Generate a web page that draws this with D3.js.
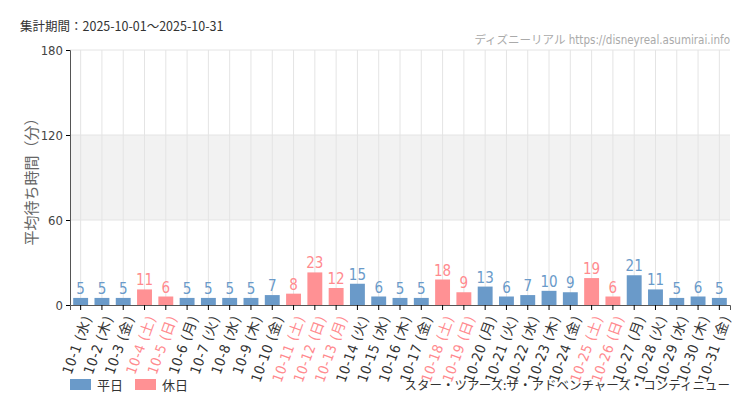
<!DOCTYPE html>
<html><head><meta charset="utf-8">
<script src="https://cdn.jsdelivr.net/npm/d3@7"></script>
<style>body{margin:0;background:#fff;font-family:"Noto Sans CJK JP",sans-serif}</style>
</head><body><svg id="c" width="750" height="410"></svg>
<script>
// data
var days = ["10-1","10-2","10-3","10-4","10-5","10-6","10-7","10-8","10-9","10-10","10-11","10-12","10-13","10-14","10-15","10-16","10-17","10-18","10-19","10-20","10-21","10-22","10-23","10-24","10-25","10-26","10-27","10-28","10-29","10-30","10-31"];
var weekdays = ["水","木","金","土","日","月","火","水","木","金","土","日","月","火","水","木","金","土","日","月","火","水","木","金","土","日","月","火","水","木","金"];
var holidays = ["10-4","10-5","10-11","10-12","10-13","10-18","10-19","10-25","10-26"];
var waits = [5,5,5,11,6,5,5,5,5,7,8,23,12,15,6,5,5,18,9,13,6,7,10,9,19,6,21,11,5,6,5];
var yTicks = [0,60,120,180];

var blue = "#6a9ac9", pink = "#ff9194", pinkText = "#ff8a8e";
var svg = d3.select('#c');
var m = {l:70, r:730, t:50, b:305};
var x = d3.scaleBand().domain(days).range([m.l, m.r]).paddingInner(0.3).paddingOuter(0.15);
var y = d3.scaleLinear().domain([0,180]).range([m.b, m.t]);
var isHol = function(d) { return holidays.indexOf(d) >= 0; };

// shaded band 60-120
svg.append('rect').attr('x', m.l).attr('width', m.r - m.l)
  .attr('y', y(120)).attr('height', y(60) - y(120)).attr('fill', '#f2f2f2');

// grid
svg.selectAll('.vg').data(days).enter().append('line')
  .attr('x1', function(d){return x(d)+x.bandwidth()/2}).attr('x2', function(d){return x(d)+x.bandwidth()/2})
  .attr('y1', m.t).attr('y2', m.b).attr('stroke', '#e4e4e4');
svg.selectAll('.hg').data(yTicks.slice(1)).enter().append('line')
  .attr('x1', m.l).attr('x2', m.r).attr('y1', y).attr('y2', y).attr('stroke', '#e4e4e4');

// bars
svg.selectAll('.bar').data(days).enter().append('rect')
  .attr('x', function(d){return x(d)}).attr('width', x.bandwidth())
  .attr('y', function(d,i){return y(waits[i])}).attr('height', function(d,i){return y(0)-y(waits[i])})
  .attr('fill', function(d){return isHol(d) ? pink : blue});
svg.selectAll('.val').data(days).enter().append('text')
  .attr('x', function(d){return x(d)+x.bandwidth()/2}).attr('y', function(d,i){return y(waits[i])-4})
  .attr('text-anchor','middle').attr('font-family','"DejaVu Sans Condensed","Roboto",sans-serif')
  .attr('font-size', 15)
  .attr('fill', function(d){return isHol(d) ? pinkText : blue})
  .text(function(d,i){return waits[i]});

// axes
var ya = svg.append('g').attr('transform','translate('+m.l+',0)')
  .call(d3.axisLeft(y).tickValues(yTicks).tickSize(4));
ya.selectAll('text').attr('font-size',13).attr('fill','#444').attr('font-family','"DejaVu Sans Condensed",sans-serif');
ya.select('.domain').attr('stroke','#555');
var xa = svg.append('g').attr('transform','translate(0,'+m.b+')')
  .call(d3.axisBottom(x).tickSize(5).tickFormat(function(d,i){return d+' ('+weekdays[i]+')'}));
xa.select('.domain').attr('stroke','#555');
xa.selectAll('text').attr('text-anchor','end').attr('dx',0).attr('dy',0)
  .attr('transform','translate(4,10) rotate(-70)')
  .attr('font-size',14).attr('letter-spacing',0.6).attr('font-family','"DejaVu Sans Condensed","Noto Sans CJK JP",sans-serif')
  .attr('fill', function(d){return isHol(d) ? pinkText : '#333'});

// titles
svg.append('text').attr('x',20).attr('y',31).attr('font-size',12.5).attr('fill','#333')
  .text('集計期間：2025-10-01〜2025-10-31');
svg.append('text').attr('x',730).attr('y',44).attr('text-anchor','end').attr('font-size',11.5).attr('fill','#aaa')
  .attr('font-family','"DejaVu Sans Condensed","Noto Sans CJK JP",sans-serif')
  .text('ディズニーリアル https://disneyreal.asumirai.info');
svg.append('text').attr('transform','translate(37,178) rotate(-90)').attr('text-anchor','middle')
  .attr('font-size',15).attr('fill','#666').text('平均待ち時間（分）');

// legend
var leg = [["平日", blue], ["休日", pink]];
leg.forEach(function(l, i) {
  svg.append('rect').attr('x', 70 + i*65).attr('y', 379).attr('width', 21).attr('height', 11).attr('fill', l[1]);
  svg.append('text').attr('x', 97 + i*65).attr('y', 390).attr('font-size', 13).attr('fill','#333').text(l[0]);
});
svg.append('text').attr('x',730).attr('y',390).attr('text-anchor','end').attr('font-size',12.5).attr('fill','#333')
  .text('スター・ツアーズ:ザ・アドベンチャーズ・コンティニュー');
</script></body></html>
